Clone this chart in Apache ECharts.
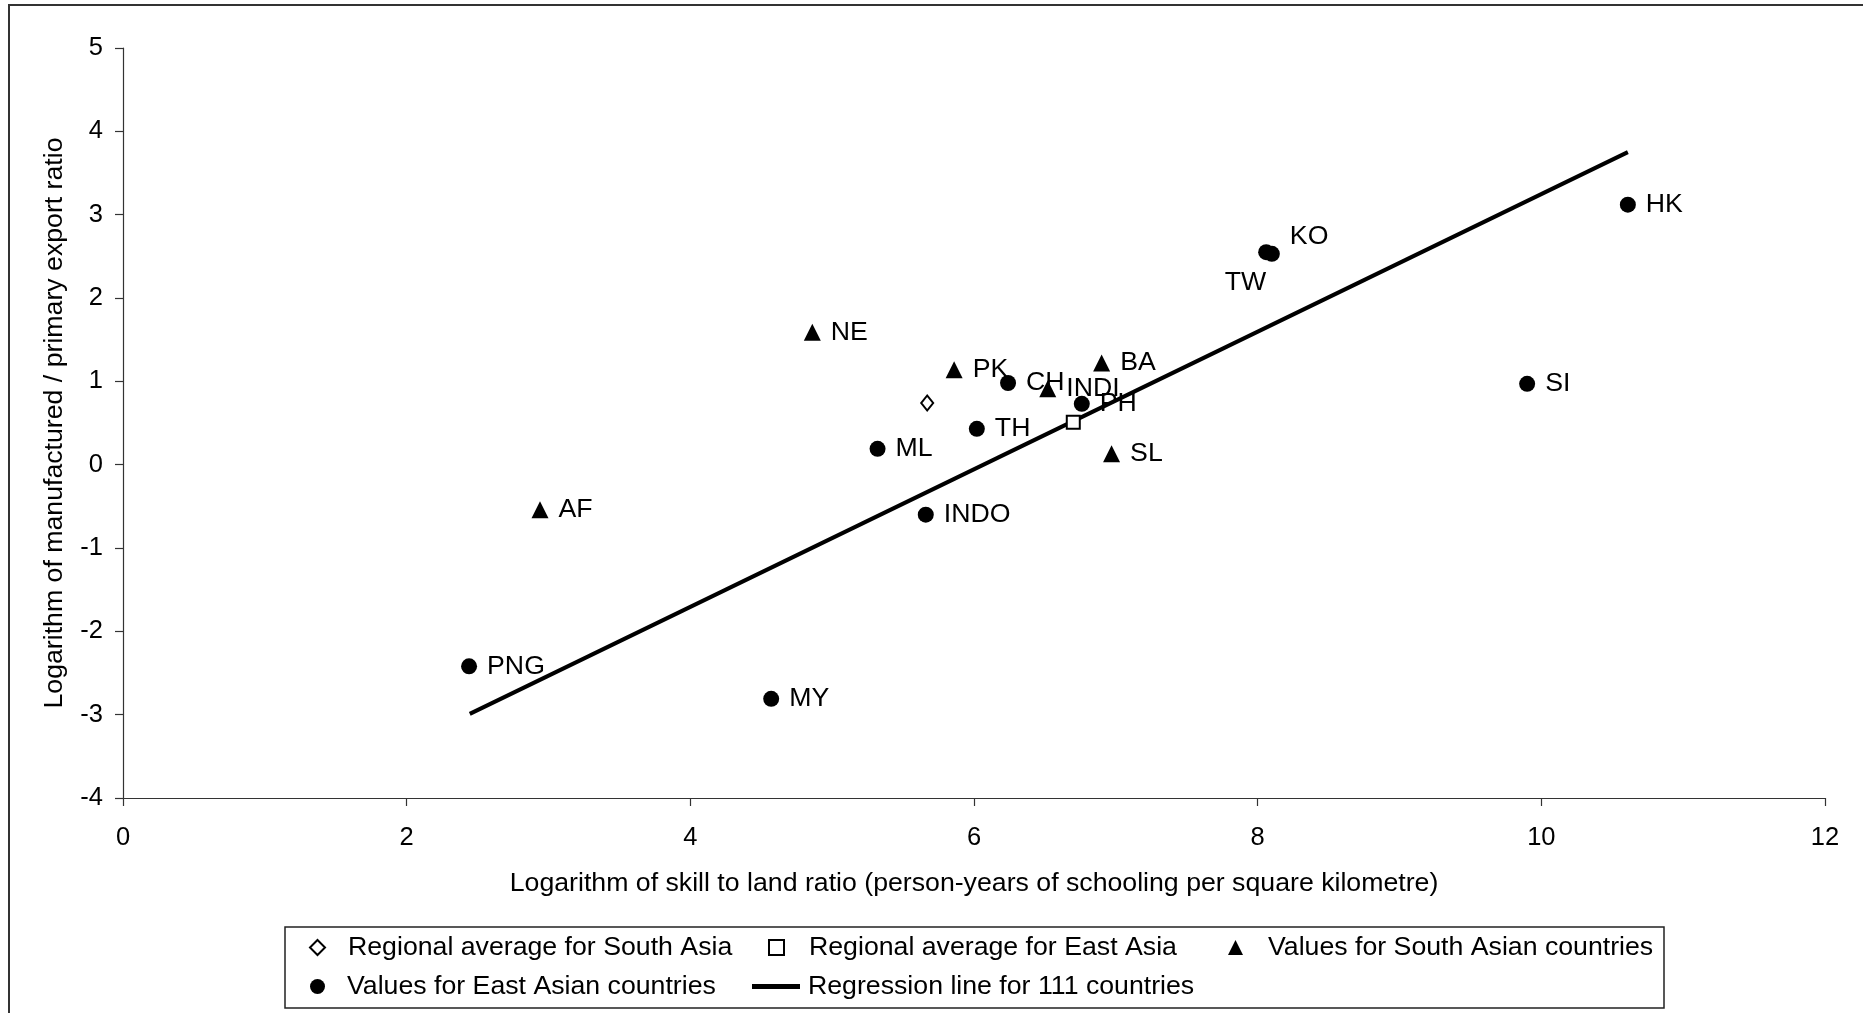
<!DOCTYPE html>
<html>
<head>
<meta charset="utf-8">
<script src="https://cdn.jsdelivr.net/npm/echarts@6/dist/echarts.min.js"></script>
<style>
  html, body { margin: 0; padding: 0; background: #fff; }
  #chart { width: 1863px; height: 1013px; }
</style>
</head>
<body>
<div id="chart"></div>
<script>
// Skill-to-land ratio vs manufactured/primary export ratio (both in logs)
const southAsiaAvgX = [5.67];
const southAsiaAvgY = [0.74];
const eastAsiaAvgX = [6.70];
const eastAsiaAvgY = [0.51];

const southNames = ['NE', 'PK', 'INDI', 'BA', 'SL', 'AF'];
const southX = [4.86, 5.86, 6.52, 6.90, 6.97, 2.94];
const southY = [1.59, 1.14, 0.91, 1.22, 0.13, -0.54];

const eastNames = ['HK', 'KO', 'TW', 'SI', 'CH', 'PH', 'TH', 'ML', 'INDO', 'PNG', 'MY'];
const eastX = [10.61, 8.10, 8.06, 9.90, 6.24, 6.76, 6.02, 5.32, 5.66, 2.44, 4.57];
const eastY = [3.12, 2.53, 2.55, 0.97, 0.98, 0.73, 0.43, 0.19, -0.60, -2.42, -2.81];

const regressionX = [2.445, 10.61];
const regressionY = [-2.99, 3.75];

const xTicks = { min: 0, max: 12, step: 2 };
const yTicks = { min: -4, max: 5, step: 1 };

const seriesNames = [
  'Regional average for South Asia',
  'Regional average for East Asia',
  'Values for South Asian countries',
  'Values for East Asian countries',
  'Regression line for 111 countries'
];

const FONT = '"Liberation Sans", Arial, Helvetica, sans-serif';
const FS = 26.7;
const TICK_FS = 25.5;

// label placement tweaks for the crowded Korea / Taiwan pair
const labelTweaks = {
  KO: { position: 'right', offset: [0, -17] },
  TW: { position: 'bottom', align: 'right', distance: 9 }
};

function zipPoints(names, xs, ys) {
  return xs.map((x, i) => {
    const item = { value: [x, ys[i]] };
    if (names) {
      item.name = names[i];
      if (labelTweaks[names[i]]) item.label = labelTweaks[names[i]];
    }
    return item;
  });
}

const pointLabel = {
  show: true,
  position: 'right',
  distance: 10,
  formatter: p => p.name,
  color: '#000',
  fontFamily: FONT,
  fontSize: FS
};

const chart = echarts.init(document.getElementById('chart'), null, { renderer: 'canvas' });

// one legend per entry so each sits in its own column of the framed key
function legendAt(entry, left, top, itemWidth, itemHeight, textPad) {
  return {
    data: [entry], left: left, top: top, padding: 0,
    itemWidth: itemWidth, itemHeight: itemHeight, itemGap: 0,
    selectedMode: false,
    textStyle: {
      color: '#000', fontFamily: FONT, fontSize: FS,
      padding: [0, 0, 0, textPad]
    }
  };
}

chart.setOption({
  backgroundColor: '#fff',
  animation: false,
  textStyle: { fontFamily: FONT },
  grid: { left: 123, right: 38, top: 48, bottom: 215, containLabel: false },
  xAxis: {
    type: 'value',
    min: xTicks.min, max: xTicks.max, interval: xTicks.step,
    name: 'Logarithm of skill to land ratio (person-years of schooling per square kilometre)',
    nameLocation: 'middle', nameGap: 72,
    nameTextStyle: { color: '#000', fontFamily: FONT, fontSize: FS },
    axisLine: { onZero: false, lineStyle: { color: '#333', width: 1.2 } },
    axisTick: { show: true, inside: false, length: 8, lineStyle: { color: '#333', width: 1.2 } },
    axisLabel: { color: '#000', fontFamily: FONT, fontSize: TICK_FS, margin: 27 },
    splitLine: { show: false }
  },
  yAxis: {
    type: 'value',
    min: yTicks.min, max: yTicks.max, interval: yTicks.step,
    name: 'Logarithm of manufactured / primary export ratio',
    nameLocation: 'middle', nameGap: 55,
    nameTextStyle: { color: '#000', fontFamily: FONT, fontSize: FS },
    axisLine: { onZero: false, lineStyle: { color: '#333', width: 1.2 } },
    axisTick: { show: true, inside: false, length: 8, lineStyle: { color: '#333', width: 1.2 } },
    axisLabel: { color: '#000', fontFamily: FONT, fontSize: TICK_FS, margin: 20 },
    splitLine: { show: false }
  },
  legend: [
    legendAt(seriesNames[0], 309, 934, 15, 15, 18),
    legendAt(seriesNames[1], 768, 934, 15, 15, 20),
    legendAt(seriesNames[2], 1228, 934, 15, 15, 20),
    legendAt(seriesNames[3], 310, 973, 15, 15, 17),
    legendAt({ name: seriesNames[4], icon: 'rect' }, 752, 973, 48, 5, 3)
  ],
  graphic: [
    {
      type: 'rect', silent: true, z: -1,
      shape: { x: 9, y: 5, width: 1900, height: 1100 },
      style: { fill: 'none', stroke: '#333', lineWidth: 2 }
    },
    {
      type: 'rect', silent: true,
      shape: { x: 285, y: 927, width: 1379, height: 81 },
      style: { fill: 'none', stroke: '#222', lineWidth: 1.5 }
    }
  ],
  series: [
    {
      name: seriesNames[4],
      type: 'line',
      data: zipPoints(null, regressionX, regressionY),
      symbol: 'none',
      lineStyle: { color: '#000', width: 4 },
      itemStyle: { color: '#000' },
      z: 1
    },
    {
      name: seriesNames[0],
      type: 'scatter',
      data: zipPoints(null, southAsiaAvgX, southAsiaAvgY),
      symbol: 'diamond', symbolSize: [12, 15],
      itemStyle: { color: '#fff', borderColor: '#000', borderWidth: 2, opacity: 1 },
      z: 3
    },
    {
      name: seriesNames[1],
      type: 'scatter',
      data: zipPoints(null, eastAsiaAvgX, eastAsiaAvgY),
      symbol: 'rect', symbolSize: 13,
      itemStyle: { color: '#fff', borderColor: '#000', borderWidth: 2, opacity: 1 },
      z: 3
    },
    {
      name: seriesNames[2],
      type: 'scatter',
      data: zipPoints(southNames, southX, southY),
      symbol: 'triangle', symbolSize: 17,
      itemStyle: { color: '#000', opacity: 1 },
      label: pointLabel,
      z: 3
    },
    {
      name: seriesNames[3],
      type: 'scatter',
      data: zipPoints(eastNames, eastX, eastY),
      symbol: 'circle', symbolSize: 16,
      itemStyle: { color: '#000', opacity: 1 },
      label: pointLabel,
      z: 3
    }
  ]
});
</script>
</body>
</html>
